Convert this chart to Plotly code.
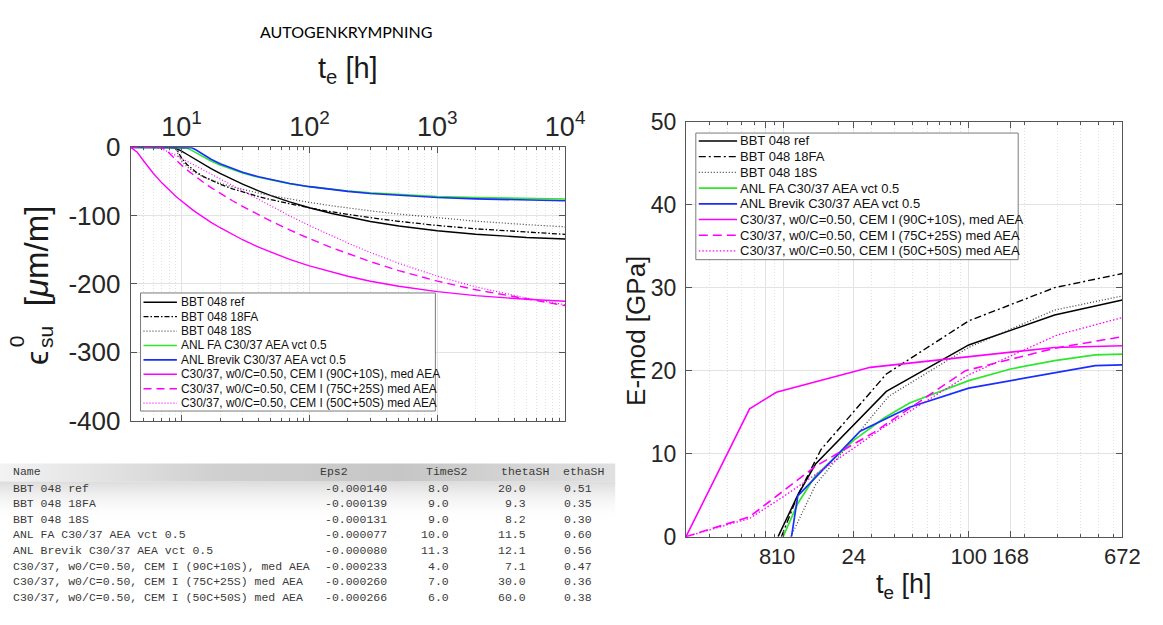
import plotly.graph_objects as go

W, H = 1163, 625

# ---------------- Autogenous shrinkage, eps_su^0 [um/m] vs t_e [h] ----------------
t_shr = [4, 4.5, 5, 6, 7, 7.5, 8, 9, 9.5, 10, 11, 12, 13, 15, 17, 20, 25, 30, 40, 50,
         70, 100, 150, 200, 300, 500, 1000, 2000, 5000, 10000]

shr_ref = [0, 0, 0, 0, 0, 0, 0, -1.4, -3.3, -5.5, -10.1, -14.4, -18.4, -25.4, -31.1, -38.2,
           -47.3, -54.0, -63.7, -70.6, -79.8, -88.4, -96.9, -102.1, -108.5, -115.2, -122.1,
           -127.2, -131.9, -134.2]
shr_18fa = [0, 0, 0, 0, 0, 0, 0, 0, -8.6, -15.7, -25.1, -31.5, -36.3, -43.3, -48.4, -54.1,
            -60.8, -65.5, -72.1, -76.7, -82.8, -88.6, -94.5, -98.2, -103.0, -108.3, -114.4,
            -119.3, -124.4, -127.4]
shr_18s = [0, 0, 0, 0, 0, 0, 0, 0, -12.9, -20.0, -28.5, -33.9, -37.9, -43.7, -47.8, -52.4,
           -57.8, -61.6, -67.0, -70.7, -75.8, -80.6, -85.6, -88.8, -93.0, -97.7, -103.3,
           -108.1, -113.2, -116.4]
shr_anl_fa = [0, 0, 0, 0, 0, 0, 0, 0, 0, 0, -1.0, -4.4, -8.2, -14.8, -20.0, -26.0, -32.8,
              -37.6, -43.9, -48.0, -53.1, -57.6, -61.6, -63.9, -66.7, -69.3, -71.9, -73.6,
              -75.0, -75.7]
shr_anl_brevik = [0, 0, 0, 0, 0, 0, 0, 0, 0, 0, 0, -0.6, -4.0, -11.5, -17.4, -24.0, -31.5,
                  -36.5, -43.2, -47.5, -52.9, -57.6, -62.0, -64.5, -67.5, -70.5, -73.5,
                  -75.5, -77.3, -78.2]
shr_90c10s = [0, -7.2, -18.9, -38.0, -52.0, -57.8, -62.9, -71.7, -75.4, -78.9, -85.1, -90.5,
              -95.3, -103.2, -109.8, -117.7, -127.8, -135.3, -146.2, -153.8, -164.1, -173.6,
              -183.0, -188.8, -196.0, -203.4, -211.3, -217.1, -222.5, -225.4]
shr_75c25s = [0, 0, 0, 0, 0, -3.3, -8.7, -18.4, -22.5, -26.3, -33.0, -38.7, -43.6, -52.0,
              -58.9, -67.3, -78.2, -86.5, -98.9, -108.0, -120.9, -133.7, -147.0, -155.9,
              -167.4, -180.5, -195.8, -208.5, -221.9, -231.8]
shr_50c50s = [0, 0, 0, 0, -2.3, -4.6, -7.0, -11.7, -14.0, -16.2, -20.3, -24.2, -27.7, -34.0,
              -39.6, -46.8, -56.6, -64.5, -76.9, -86.3, -100.3, -114.5, -129.9, -140.2,
              -154.0, -169.8, -188.6, -204.3, -220.8, -230.5]

shr_xticks = [10, 100, 1000, 10000]
shr_xticktext = ["10<sup>1</sup>", "10<sup>2</sup>", "10<sup>3</sup>", "10<sup>4</sup>"]
shr_yticks = [0, -100, -200, -300, -400]
shr_yticktext = ["0", "-100", "-200", "-300", "-400"]

# ---------------- E-modulus [GPa] vs t_e [h] ----------------
t_emod_ref = [9.4, 12, 15, 36, 100, 290, 672]
emod_ref = [0, 5.0, 8.8, 17.5, 23.1, 26.7, 28.5]
t_emod_18fa = [9.8, 12, 16, 36, 100, 290, 672]
emod_18fa = [0, 5.0, 10.5, 19.6, 26.0, 30.0, 31.7]
t_emod_18s = [11, 15, 37, 100, 290, 672]
emod_18s = [0, 6.3, 16.9, 22.8, 27.3, 29.0]
t_emod_anl_fa = [10, 12, 15, 24, 35, 48, 100, 168, 290, 480, 672]
emod_anl_fa = [0, 4.0, 7.4, 11.6, 14.3, 16.1, 18.8, 20.2, 21.2, 21.9, 22.0]
t_emod_anl_brevik = [11.1, 12, 26, 35, 48, 100, 168, 290, 480, 672]
emod_anl_brevik = [0, 4.9, 12.7, 14.1, 15.6, 17.9, 18.8, 19.7, 20.6, 20.7]
t_emod_90c10s = [3, 6.6, 9.2, 29.5, 290, 672]
emod_90c10s = [0, 15.4, 17.4, 20.4, 22.8, 23.0]
t_emod_75c25s = [3, 6.6, 15, 31, 96, 290, 672]
emod_75c25s = [0, 2.4, 8.5, 12.6, 20.0, 22.7, 24.1]
t_emod_50c50s = [3, 6.6, 10, 15, 35, 100, 300, 672]
emod_50c50s = [0, 2.2, 4.8, 7.5, 13.2, 19.5, 24.3, 26.4]

emod_xticks = [8, 10, 24, 100, 168, 672]
emod_xticktext = ["8", "10", "24", "100", "168", "672"]
emod_yticks = [0, 10, 20, 30, 40, 50]

# ---------------- Shrinkage model parameters ----------------
mix_names = ["BBT 048 ref", "BBT 048 18FA", "BBT 048 18S", "ANL FA C30/37 AEA vct 0.5",
             "ANL Brevik C30/37 AEA vct 0.5", "C30/37, w0/C=0.50, CEM I (90C+10S), med AEA",
             "C30/37, w0/C=0.50, CEM I (75C+25S) med AEA",
             "C30/37, w0/C=0.50, CEM I (50C+50S) med AEA"]
eps2 = [-0.000140, -0.000139, -0.000131, -0.000077, -0.000080, -0.000233, -0.000260, -0.000266]
times2 = [8.0, 9.0, 9.0, 10.0, 11.3, 4.0, 7.0, 6.0]
theta_sh = [20.0, 9.3, 8.2, 11.5, 12.1, 7.1, 30.0, 60.0]
etha_sh = [0.51, 0.35, 0.30, 0.60, 0.56, 0.47, 0.36, 0.38]
table_header = ["Name", "Eps2", "TimeS2", "thetaSH", "ethaSH"]

# ---------------- styles ----------------
BLACK, GREEN, BLUE, MAG = "#000000", "#2ee62e", "#1a2eff", "#ff00ff"
series_style = [
    dict(color=BLACK, dash="solid", width=1.4),
    dict(color=BLACK, dash="5px,2px,1.5px,2px", width=1.3),
    dict(color="#444444", dash="1px,2px", width=1.2),
    dict(color=GREEN, dash="solid", width=1.6),
    dict(color=BLUE, dash="solid", width=1.6),
    dict(color=MAG, dash="solid", width=1.4),
    dict(color=MAG, dash="8px,5px", width=1.4),
    dict(color=MAG, dash="1px,2px", width=1.2),
]
emod_style = [
    dict(color=BLACK, dash="solid", width=1.5),
    dict(color=BLACK, dash="7px,3px,2px,3px", width=1.4),
    dict(color="#444444", dash="1px,2px", width=1.3),
    dict(color=GREEN, dash="solid", width=1.7),
    dict(color=BLUE, dash="solid", width=1.7),
    dict(color=MAG, dash="solid", width=1.6),
    dict(color=MAG, dash="9px,5px", width=1.6),
    dict(color=MAG, dash="1.5px,2px", width=1.3),
]

FONT = "Liberation Sans, Arial, sans-serif"
TICKC = "#262626"
AXC = "#555555"
GRID = "#e3e3e3"
MINGRID = "#e0e0e0"


def px(x):
    return x / W


def py(y):
    return 1 - y / H


fig = go.Figure()

shr_series = [shr_ref, shr_18fa, shr_18s, shr_anl_fa, shr_anl_brevik,
              shr_90c10s, shr_75c25s, shr_50c50s]
for name, ys, st in zip(mix_names, shr_series, series_style):
    fig.add_trace(go.Scatter(x=t_shr, y=ys, mode="lines", name=name, line=st,
                             xaxis="x", yaxis="y", hoverinfo="skip"))

emod_t = [t_emod_ref, t_emod_18fa, t_emod_18s, t_emod_anl_fa, t_emod_anl_brevik,
          t_emod_90c10s, t_emod_75c25s, t_emod_50c50s]
emod_v = [emod_ref, emod_18fa, emod_18s, emod_anl_fa, emod_anl_brevik,
          emod_90c10s, emod_75c25s, emod_50c50s]
for name, ts, ys, st in zip(mix_names, emod_t, emod_v, emod_style):
    fig.add_trace(go.Scatter(x=ts, y=ys, mode="lines", name=name, line=st,
                             xaxis="x2", yaxis="y2", hoverinfo="skip"))

# table header shading (pixel-coordinate helper axis)
fig.add_trace(go.Scatter(x=[0, 626, 626, 0, 0], y=[471, 471, 490, 490, 471], fill="toself",
                         mode="none", fillgradient=dict(type="horizontal", colorscale=[
                             [0, "#f3f3f3"], [0.35, "#d0d0d0"], [0.65, "#c6c6c6"], [1, "#e0e0e0"]]),
                         xaxis="x3", yaxis="y3", hoverinfo="skip"))
fig.add_trace(go.Scatter(x=[0, 626, 626, 0, 0], y=[490, 490, 530, 530, 490], fill="toself",
                         mode="none", fillgradient=dict(type="vertical", start=490, stop=530,
                                                        colorscale=[[0, "rgba(200,200,200,0.6)"],
                                                                    [1, "rgba(255,255,255,0)"]]),
                         xaxis="x3", yaxis="y3", hoverinfo="skip"))

common_axis = dict(showline=True, linecolor=AXC, linewidth=1, mirror="allticks",
                   ticks="inside", tickcolor=AXC, zeroline=False, showgrid=True,
                   gridcolor=GRID, gridwidth=1, tickangle=0)

minor_left = [5, 6, 7, 8, 9] + [k * 10 for k in range(2, 10)] + \
             [k * 100 for k in range(2, 10)] + [k * 1000 for k in range(2, 10)]
minor_right = [4, 5, 6, 7, 9, 20, 30, 40, 50, 60, 70, 80, 90, 200, 300, 400, 500, 600]

fig.update_layout(
    width=W, height=H, margin=dict(l=0, r=0, t=0, b=0),
    paper_bgcolor="white", plot_bgcolor="white", showlegend=False,
    xaxis=dict(common_axis, type="log", domain=[px(133), px(575)], range=[0.60206, 4],
               side="top", anchor="y", tickmode="array", tickvals=shr_xticks,
               ticktext=shr_xticktext, ticklen=6,
               tickfont=dict(family=FONT, size=27, color=TICKC),
               minor=dict(tickmode="array", tickvals=minor_left, ticks="inside", ticklen=3,
                          tickcolor=AXC, showgrid=True, gridcolor=MINGRID,
                          griddash="1px,2px")),
    yaxis=dict(common_axis, domain=[py(426), py(139)], range=[-400, 0], anchor="x",
               tickmode="array", tickvals=shr_yticks, ticktext=shr_yticktext, ticklen=6,
               tickfont=dict(family=FONT, size=26, color=TICKC), ticklabelstandoff=4),
    xaxis2=dict(common_axis, type="log", domain=[px(698), px(1142)], range=[0.47712, 2.82737],
                anchor="y2", tickmode="array", tickvals=emod_xticks, ticktext=emod_xticktext,
                ticklen=6, tickfont=dict(family=FONT, size=22, color=TICKC),
                minor=dict(tickmode="array", tickvals=minor_right, ticks="inside", ticklen=3,
                           tickcolor=AXC, showgrid=True, gridcolor=MINGRID,
                           griddash="1px,2px")),
    yaxis2=dict(common_axis, domain=[py(548), py(112)], range=[0, 50], anchor="x2",
                tickmode="array", tickvals=emod_yticks, ticklen=6,
                tickfont=dict(family=FONT, size=23, color=TICKC), ticklabelstandoff=4),
    xaxis3=dict(domain=[0, px(630)], range=[0, 630], visible=False, fixedrange=True,
                anchor="y3"),
    yaxis3=dict(domain=[0, py(465)], range=[625, 465], visible=False, fixedrange=True,
                anchor="x3"),
)

shapes = []
annotations = []


def legend_box(x0, x1, y0, y1, row0, step, s0, s1, tx, fsize, styles):
    shapes.append(dict(type="rect", xref="paper", yref="paper", x0=px(x0), x1=px(x1),
                       y0=py(y0), y1=py(y1), line=dict(color="#7a7a7a", width=1),
                       fillcolor="white", layer="above"))
    for i, (name, st) in enumerate(zip(mix_names, styles)):
        yy = row0 + i * step
        shapes.append(dict(type="line", xref="paper", yref="paper", x0=px(s0), x1=px(s1),
                           y0=py(yy), y1=py(yy),
                           line=dict(color=st["color"], dash=st["dash"], width=st["width"])))
        annotations.append(dict(text=name, xref="paper", yref="paper", x=px(tx), y=py(yy),
                                xanchor="left", yanchor="middle", showarrow=False,
                                font=dict(family=FONT, size=fsize, color="#111111")))


legend_box(143, 443, 292, 416, 301.7, 15.14, 146, 180, 182, 11.9, series_style)
legend_box(708, 1036, 124, 257, 132.3, 16.5, 711, 750, 751, 13.0, emod_style)


def ptext(text, x, y, size, family=FONT, angle=0, color="#1a1a1a", xa="center"):
    annotations.append(dict(text=text, xref="paper", yref="paper", x=px(x), y=py(y),
                            xanchor=xa, yanchor="middle", showarrow=False, textangle=angle,
                            font=dict(family=family, size=size, color=color)))


ptext("AUTOGENKRYMPNING", 352, 17, 16, family="Lato, sans-serif", color="#000000")
ptext("t<sub>e</sub> [h]", 354, 58, 29)
ptext("ϵ", 37, 360, 32, angle=-90)
ptext("0", 17, 343, 21, angle=-90)
ptext("su", 47, 338, 21, angle=-90)
ptext("[<i>μ</i>m/m]", 37, 253, 33, angle=-90)
ptext("E-mod [GPa]", 647, 332, 26, angle=-90)
ptext("t<sub>e</sub> [h]", 920, 600, 27)

# parameter table
MONO = "Liberation Mono, Courier New, monospace"
TCOL = "#3a3a3a"


def ttext(text, x, y, xa):
    annotations.append(dict(text=text, xref="x3", yref="y3", x=x, y=y, xanchor=xa,
                            yanchor="middle", showarrow=False,
                            font=dict(family=MONO, size=11.5, color=TCOL)))


head_x = [11, 324, 431, 508, 571]
for h, hx in zip(table_header, head_x):
    ttext(h, hx, 480, "left")
for i in range(len(mix_names)):
    yy = 497 + i * 16.4
    ttext(mix_names[i], 11, yy, "left")
    ttext(f"{eps2[i]:.6f}", 396, yy, "right")
    ttext(f"{times2[i]:.1f}", 459, yy, "right")
    ttext(f"{theta_sh[i]:.1f}", 537, yy, "right")
    ttext(f"{etha_sh[i]:.2f}", 604, yy, "right")

fig.update_layout(shapes=shapes, annotations=annotations)
fig.write_html("out.html")
